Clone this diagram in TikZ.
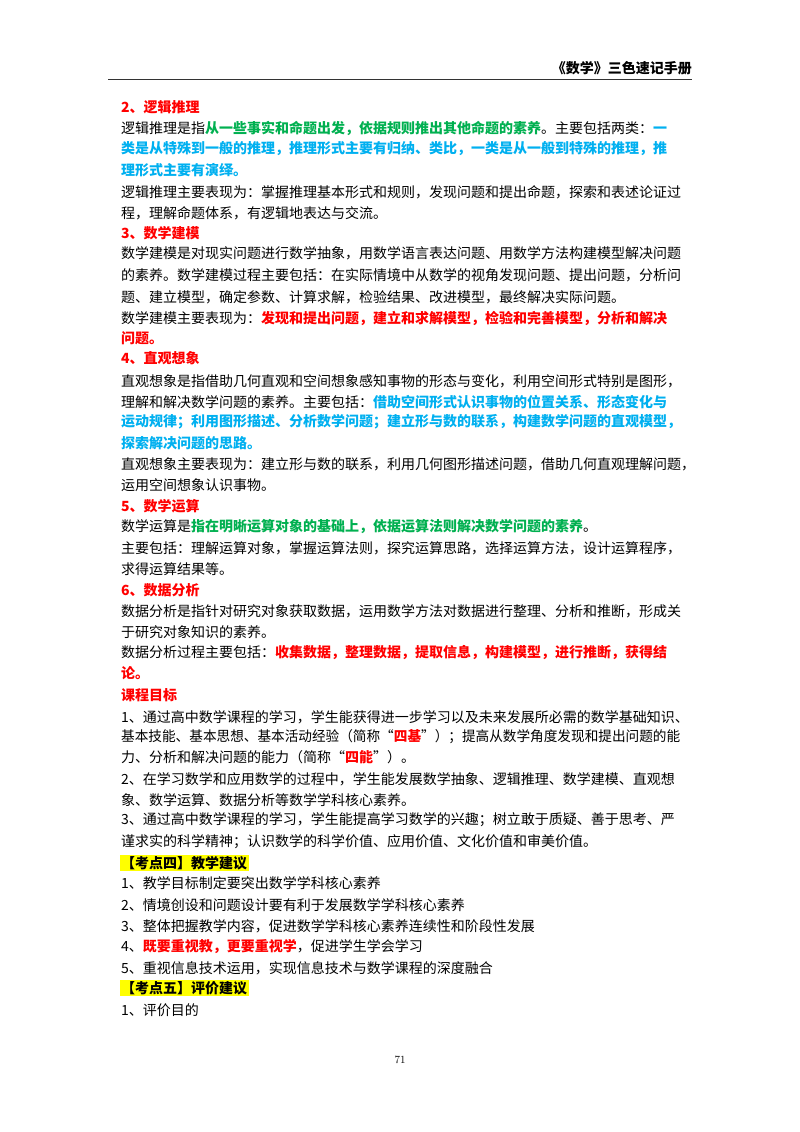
\documentclass[tikz,border=0pt]{standalone}
\usepackage{graphicx}
\usepackage{fontspec}
\setmainfont{Noto Sans CJK SC}
\setsansfont{Noto Sans CJK SC}
\newfontfamily\lmfont{Latin Modern Roman}
\XeTeXlinebreaklocale "zh"
\XeTeXlinebreakskip=0.6pt plus 4pt minus 1.5pt
\definecolor{myred}{RGB}{255,0,0}
\definecolor{mygrn}{RGB}{0,176,80}
\definecolor{myblu}{RGB}{0,176,240}
\definecolor{myyel}{RGB}{255,255,0}
\newcommand\cred[1]{{\bfseries\color{myred}#1}}
\newcommand\cgrn[1]{{\bfseries\color{mygrn}#1}}
\newcommand\cblu[1]{{\bfseries\color{myblu}#1}}
\newcommand\FL[1]{\hbox to 559pt{#1}}
\newcommand\FLT[1]{\resizebox{559pt}{\height}{#1}}
\tikzset{ln/.style={anchor=west,inner sep=0pt,font=\fontsize{14}{16}\selectfont},
 ttl/.style={ln,font=\fontsize{14}{16}\selectfont\bfseries,text=myred},
 hl/.style={anchor=west,inner sep=1.5pt,fill=myyel,font=\fontsize{14}{16}\selectfont\bfseries}}
\begin{document}
\begin{tikzpicture}[x=1pt,y=-1pt]
\useasboundingbox[fill=white] (0,0) rectangle (800,1132);
\node[anchor=east,inner sep=0pt,font=\fontsize{14}{16}\selectfont\bfseries] (hd) at (692,68) {《数学》三色速记手册};
\coordinate (rl) at (108,79); \coordinate (rr) at (692,79);
\draw[line width=1pt,black!80] (rl) -- (rr);
\node[ttl] (t2) at (121,107) {2、逻辑推理};
\node[ln] (a1) at (121,128) {\FL{逻辑推理是指\cgrn{从一些事实和命题出发，依据规则推出其他命题的素养}。主要包括两类：\cblu{一}}};
\node[ln] (a2) at (121,149) {\FL{\cblu{类是从特殊到一般的推理，推理形式主要有归纳、类比，一类是从一般到特殊的推理，推}}};
\node[ln] (a3) at (121,170) {\cblu{理形式主要有演绎。}};
\node[ln] (a4) at (121,192) {\FL{逻辑推理主要表现为：掌握推理基本形式和规则，发现问题和提出命题，探索和表述论证过}};
\node[ln] (a5) at (121,213) {程，理解命题体系，有逻辑地表达与交流。};
\node[ttl] (t3) at (121,233) {3、数学建模};
\node[ln] (b1) at (121,253) {\FL{数学建模是对现实问题进行数学抽象，用数学语言表达问题、用数学方法构建模型解决问题}};
\node[ln] (b2) at (121,275) {\FL{的素养。数学建模过程主要包括：在实际情境中从数学的视角发现问题、提出问题，分析问}};
\node[ln] (b3) at (121,297) {题、建立模型，确定参数、计算求解，检验结果、改进模型，最终解决实际问题。};
\node[ln] (b4) at (121,318) {\FL{数学建模主要表现为：\cred{发现和提出问题，建立和求解模型，检验和完善模型，分析和解决}}};
\node[ln] (b5) at (121,338) {\cred{问题。}};
\node[ttl] (t4) at (121,358) {4、直观想象};
\node[ln] (c1) at (121,381) {\FL{直观想象是指借助几何直观和空间想象感知事物的形态与变化，利用空间形式特别是图形，}};
\node[ln] (c2) at (121,402) {\FL{理解和解决数学问题的素养。主要包括：\cblu{借助空间形式认识事物的位置关系、形态变化与}}};
\node[ln] (c3) at (121,422) {\FL{\cblu{运动规律；利用图形描述、分析数学问题；建立形与数的联系，构建数学问题的直观模型，}}};
\node[ln] (c4) at (121,443) {\cblu{探索解决问题的思路。}};
\node[ln] (c5) at (121,464) {\FL{直观想象主要表现为：建立形与数的联系，利用几何图形描述问题，借助几何直观理解问题，}};
\node[ln] (c6) at (121,485) {运用空间想象认识事物。};
\node[ttl] (t5) at (121,506) {5、数学运算};
\node[ln] (d1) at (121,527) {数学运算是\cgrn{指在明晰运算对象的基础上，依据运算法则解决数学问题的素养}。};
\node[ln] (d2) at (121,548) {\FL{主要包括：理解运算对象，掌握运算法则，探究运算思路，选择运算方法，设计运算程序，}};
\node[ln] (d3) at (121,569) {求得运算结果等。};
\node[ttl] (t6) at (121,590) {6、数据分析};
\node[ln] (e1) at (121,611) {\FL{数据分析是指针对研究对象获取数据，运用数学方法对数据进行整理、分析和推断，形成关}};
\node[ln] (e2) at (121,632) {于研究对象知识的素养。};
\node[ln] (e3) at (121,653) {\FL{数据分析过程主要包括：\cred{收集数据，整理数据，提取信息，构建模型，进行推断，获得结}}};
\node[ln] (e4) at (121,673) {\cred{论。}};
\node[ttl] (t7) at (121,695) {课程目标};
\node[ln] (f1) at (121,717) {\FL{1、通过高中数学课程的学习，学生能获得进一步学习以及未来发展所必需的数学基础知识、}};
\node[ln] (f2) at (121,737) {\FLT{基本技能、基本思想、基本活动经验（简称“\cred{四基}”）；提高从数学角度发现和提出问题的能}};
\node[ln] (f3) at (121,757) {力、分析和解决问题的能力（简称“\cred{四能}”）。};
\node[ln] (f4) at (121,779) {\FL{2、在学习数学和应用数学的过程中，学生能发展数学抽象、逻辑推理、数学建模、直观想}};
\node[ln] (f5) at (121,800) {象、数学运算、数据分析等数学学科核心素养。};
\node[ln] (f6) at (121,820) {\FL{3、通过高中数学课程的学习，学生能提高学习数学的兴趣；树立敢于质疑、善于思考、严}};
\node[ln] (f7) at (121,842) {谨求实的科学精神；认识数学的科学价值、应用价值、文化价值和审美价值。};
\node[hl] (k4) at (119.5,863) {【考点四】教学建议};
\node[ln] (g1) at (121,883) {1、教学目标制定要突出数学学科核心素养};
\node[ln] (g2) at (121,905) {2、情境创设和问题设计要有利于发展数学学科核心素养};
\node[ln] (g3) at (121,926) {3、整体把握教学内容，促进数学学科核心素养连续性和阶段性发展};
\node[ln] (g4) at (121,947) {4、\cred{既要重视教，更要重视学}，促进学生学会学习};
\node[ln] (g5) at (121,968) {5、重视信息技术运用，实现信息技术与数学课程的深度融合};
\node[hl] (k5) at (119.5,988) {【考点五】评价建议};
\node[ln] (h1) at (121,1010) {1、评价目的};
\node[inner sep=0pt,font=\lmfont\fontsize{11}{13}\selectfont] (pg) at (400,1060) {71};
\end{tikzpicture}
\end{document}
